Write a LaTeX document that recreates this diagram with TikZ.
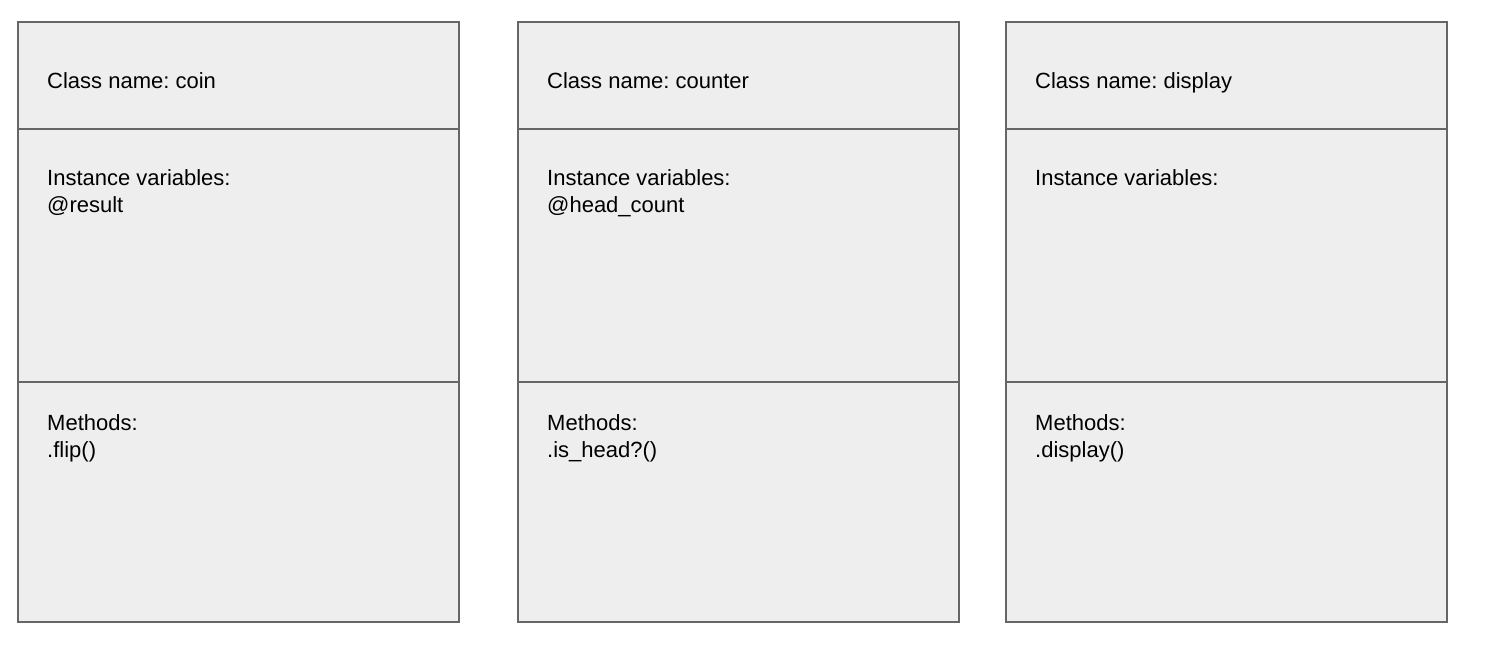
\documentclass[tikz,border=0pt]{standalone}
\usepackage{fontspec}
\setmainfont{Liberation Sans}
\frenchspacing
\definecolor{boxfill}{HTML}{EEEEEE}
\definecolor{boxline}{HTML}{666666}
\begin{document}
\begin{tikzpicture}[x=1pt,y=-1pt,
  cell/.style={draw=boxline,fill=boxfill,line width=1.5pt},
  txt/.style={anchor=base west,inner sep=0pt,font=\fontsize{22}{27}\selectfont\frenchspacing,align=left}]
\useasboundingbox (0,0) rectangle (1493,667);
\foreach \x/\n in {18/a,518/b,1006/c}{
  \draw[cell] (\x,22) rectangle (\x+441,129);
  \draw[cell] (\x,129) rectangle (\x+441,382);
  \draw[cell] (\x,382) rectangle (\x+441,622);
}
\node[txt] (a1) at (47,88) {Class name: coin};
\node[txt] (a2) at (47,185) {Instance variables:};
\node[txt] (a3) at (47,212) {@result};
\node[txt] (a4) at (47,430) {Methods:};
\node[txt] (a5) at (47,457) {.flip()};
\node[txt] (b1) at (547,88) {Class name: counter};
\node[txt] (b2) at (547,185) {Instance variables:};
\node[txt] (b3) at (547,212) {@head\_count};
\node[txt] (b4) at (547,430) {Methods:};
\node[txt] (b5) at (547,457) {.is\_head?()};
\node[txt] (c1) at (1035,88) {Class name: display};
\node[txt] (c2) at (1035,185) {Instance variables:};
\node[txt] (c4) at (1035,430) {Methods:};
\node[txt] (c5) at (1035,457) {.display()};
\end{tikzpicture}
\end{document}
